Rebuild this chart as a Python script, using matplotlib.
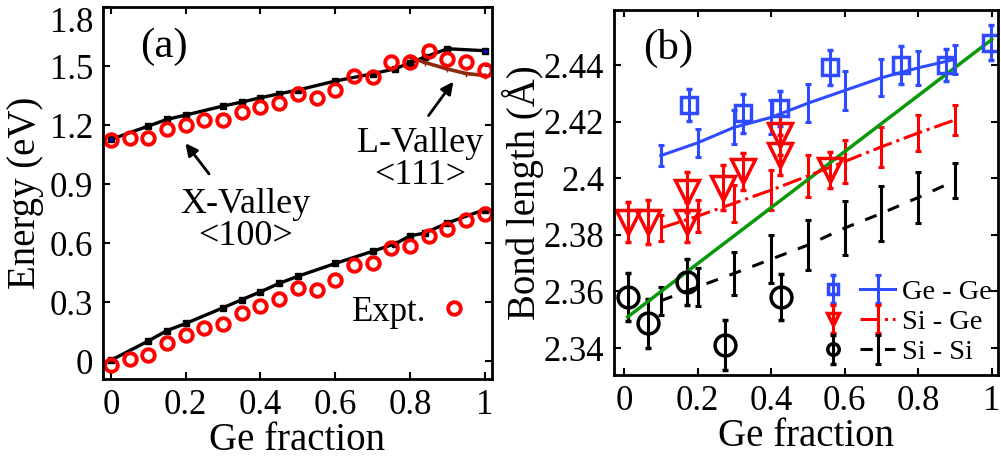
import numpy as np
import matplotlib.pyplot as plt
from matplotlib.legend_handler import HandlerTuple

plt.rcParams['font.family'] = ['Liberation Serif', 'DejaVu Serif']

# ---------------- panel (a): conduction band edges ----------------
x_calc = [0, 0.1, 0.15, 0.2, 0.3, 0.35, 0.4, 0.45, 0.5, 0.6, 0.7, 0.76, 0.8, 0.84, 0.9, 1.0]
e_upper = [1.127, 1.195, 1.229, 1.251, 1.297, 1.317, 1.339, 1.359, 1.378, 1.424, 1.461,
           1.486, 1.517, 1.546, 1.588, 1.578]
e_lower = [0.005, 0.103, 0.156, 0.192, 0.272, 0.313, 0.353, 0.396, 0.432, 0.497, 0.559,
           0.597, 0.637, 0.652, 0.703, 0.771]
x_Lval = [0.8, 0.84, 0.9, 0.95, 1.0]
e_Lval = [1.545, 1.518, 1.485, 1.462, 1.452]

x_expt = [0, 0.05, 0.1, 0.15, 0.2, 0.25, 0.3, 0.35, 0.4, 0.45, 0.5, 0.55, 0.6, 0.65, 0.7,
          0.75, 0.8, 0.85, 0.9, 0.95, 1.0]
e_expt_upper = [1.122, 1.135, 1.135, 1.180, 1.203, 1.225, 1.227, 1.267, 1.290, 1.312, 1.356,
                1.336, 1.380, 1.449, 1.442, 1.523, 1.523, 1.575, 1.536, 1.523, 1.479]
e_expt_lower = [-0.021, 0.010, 0.032, 0.092, 0.132, 0.169, 0.187, 0.245, 0.280, 0.317, 0.370,
                0.360, 0.415, 0.488, 0.497, 0.576, 0.585, 0.636, 0.670, 0.720, 0.746]

ticks_x = [0, 0.2, 0.4, 0.6, 0.8, 1]
ticklabels_x = ['0', '0.2', '0.4', '0.6', '0.8', '1']
ticks_ya = [0, 0.3, 0.6, 0.9, 1.2, 1.5, 1.8]
ticklabels_ya = ['0', '0.3', '0.6', '0.9', '1.2', '1.5', '1.8']

# ---------------- panel (b): bond lengths ----------------
x_line = [0.1, 0.2, 0.3, 0.4, 0.5, 0.6, 0.7, 0.8, 0.9]
gege_line = [2.408, 2.4125, 2.418, 2.4215, 2.4265, 2.431, 2.4355, 2.439, 2.442]
gege_line_err = [0.0038, 0.005, 0.006, 0.006, 0.0068, 0.0068, 0.0065, 0.006, 0.0052]
sige_line = [2.3824, 2.3866, 2.3912, 2.3958, 2.4008, 2.4059, 2.4111, 2.416, 2.4206]
sige_line_err = [0.0047, 0.0056, 0.0065, 0.007, 0.0073, 0.0077, 0.0071, 0.0065, 0.0053]
sisi_line = [2.3567, 2.3616, 2.3664, 2.3714, 2.3764, 2.3824, 2.3876, 2.3932, 2.3991]
sisi_line_err = [0.005, 0.0068, 0.0077, 0.0085, 0.0088, 0.0094, 0.0097, 0.0091, 0.0062]

x_gege_pts = [0.177, 0.325, 0.425, 0.559, 0.754, 0.875, 0.998]
gege_pts = [2.4259, 2.4229, 2.4247, 2.4392, 2.4400, 2.4400, 2.4479]
gege_pts_err = [0.0058, 0.0068, 0.0062, 0.0062, 0.0068, 0.0056, 0.0062]

x_sige_pts = [0.012, 0.066, 0.171, 0.171, 0.27, 0.325, 0.425, 0.425, 0.559]
sige_pts = [2.3846, 2.3846, 2.3952, 2.3846, 2.3967, 2.4025, 2.4153, 2.4082, 2.4029]
sige_pts_err = [0.007, 0.0077, 0.007, 0.007, 0.008, 0.0065, 0.0072, 0.0072, 0.0062]

x_sisi_pts = [0.012, 0.066, 0.171, 0.275, 0.426]
sisi_pts = [2.3579, 2.3487, 2.3634, 2.3410, 2.3581]
sisi_pts_err = [0.0085, 0.0085, 0.0082, 0.0088, 0.0082]

x_vegard = [0.01, 1.0]
vegard = [2.351, 2.449]

ticks_yb = [2.34, 2.36, 2.38, 2.40, 2.42, 2.44]
ticklabels_yb = ['2.34', '2.36', '2.38', '2.4', '2.42', '2.44']

blue = '#2f4bff'
red = '#ff0000'
green = '#0a990a'
brown = '#8c2a0c'

fig = plt.figure(figsize=(10.01, 4.59), dpi=100)
ax1 = fig.add_axes([0.1029, 0.1743, 0.3886, 0.8104])
ax2 = fig.add_axes([0.6134, 0.183, 0.3836, 0.795])

for ax in (ax1, ax2):
    ax.tick_params(direction='in', top=True, right=True, length=5, width=1.5,
                   labelsize=25, pad=7)
    for sp in ax.spines.values():
        sp.set_linewidth(2)

# ---- panel (a)
ax1.plot(x_calc, e_upper, '-s', color='k', lw=2.4, ms=4)
ax1.plot(x_calc, e_lower, '-s', color='k', lw=2.4, ms=4)
ax1.plot(x_Lval, e_Lval, '-+', color=brown, lw=2.6, ms=5)
ax1.plot([x_calc[0], x_calc[-1]], [e_upper[0], e_upper[-1]], '.', color='b', ms=3)
ax1.plot(x_expt, e_expt_upper, 'o', mfc='none', mec=red, mew=2.8, ms=9)
ax1.plot(x_expt, e_expt_lower, 'o', mfc='none', mec=red, mew=2.8, ms=9, label='Expt.')

ax1.set_xlim(-0.021, 1.019)
ax1.set_ylim(-0.09, 1.8)
ax1.set_xticks(ticks_x)
ax1.set_xticklabels(ticklabels_x)
ax1.set_yticks(ticks_ya)
ax1.set_yticklabels(ticklabels_ya)
ax1.get_yticklabels()[-1].set_va('top')
ax1.set_xlabel('Ge fraction', fontsize=28, labelpad=0)
ax1.set_ylabel('Energy (eV)', fontsize=28, labelpad=4)

ax1.text(0.157, 0.892, '(a)', transform=ax1.transAxes, fontsize=31,
         ha='center', va='center')
ax1.annotate('', xy=(0.195, 1.119), xytext=(0.267, 0.941),
             arrowprops=dict(arrowstyle='-|>', color='k', lw=2, mutation_scale=18))
ax1.text(0.36, 0.717, 'X-Valley\n<100>', fontsize=26, ha='center', va='center',
         linespacing=0.95)
ax1.annotate('', xy=(0.92, 1.432), xytext=(0.845, 1.237),
             arrowprops=dict(arrowstyle='-|>', color='k', lw=2, mutation_scale=18))
ax1.text(0.827, 1.027, 'L-Valley\n<111>', fontsize=26, ha='center', va='center',
         linespacing=0.95)
ax1.legend(loc='lower right', frameon=False, markerfirst=False, fontsize=25,
           handlelength=0.8, handletextpad=0.4, borderaxespad=0.3,
           bbox_to_anchor=(1.0, 0.07))

# ---- panel (b)
eb_kw = dict(elinewidth=2.2, capsize=2.5, capthick=2.2)
gg_line = ax2.errorbar(x_line, gege_line, yerr=gege_line_err, color=blue, lw=2.2,
                       ls='-', **eb_kw)
sg_line = ax2.errorbar(x_line, sige_line, yerr=sige_line_err, color=red, lw=2.2,
                       ls='-.', **eb_kw)
ss_line = ax2.errorbar(x_line, sisi_line, yerr=sisi_line_err, color='k', lw=2.2,
                       ls=(0, (4, 4)), **eb_kw)
gg_pts = ax2.errorbar(x_gege_pts, gege_pts, yerr=gege_pts_err, fmt='s', color=blue,
                      mfc='none', mew=2.5, ms=12, **eb_kw)
sg_pts = ax2.errorbar(x_sige_pts, sige_pts, yerr=sige_pts_err, fmt='v', color=red,
                      mfc='none', mew=2.5, ms=17, **eb_kw)
ss_pts = ax2.errorbar(x_sisi_pts, sisi_pts, yerr=sisi_pts_err, fmt='o', color='k',
                      mfc='none', mew=2.5, ms=15, **eb_kw)
ax2.plot(x_vegard, vegard, '-', color=green, lw=2.5)

ax2.set_xlim(-0.027, 1.017)
ax2.set_ylim(2.3305, 2.4594)
ax2.set_xticks(ticks_x)
ax2.set_xticklabels(ticklabels_x)
ax2.set_yticks(ticks_yb)
ax2.set_yticklabels(ticklabels_yb)
ax2.set_xlabel('Ge fraction', fontsize=28, labelpad=0)
ax2.set_ylabel('Bond length (Å)', fontsize=28, labelpad=0)
ax2.text(0.14, 0.896, '(b)', transform=ax2.transAxes, fontsize=31,
         ha='center', va='center')

ax2.legend([(gg_pts, gg_line), (sg_pts, sg_line), (ss_pts, ss_line)],
           ['Ge - Ge', 'Si - Ge', 'Si - Si'],
           handler_map={tuple: HandlerTuple(ndivide=None, pad=0.3)},
           loc='center left', bbox_to_anchor=(0.525, 0.145), frameon=False,
           fontsize=20.5, handlelength=2.8, handletextpad=0.25, labelspacing=0.15,
           markerscale=0.55, borderpad=0, borderaxespad=0)

fig.savefig('out.png', dpi=100)
